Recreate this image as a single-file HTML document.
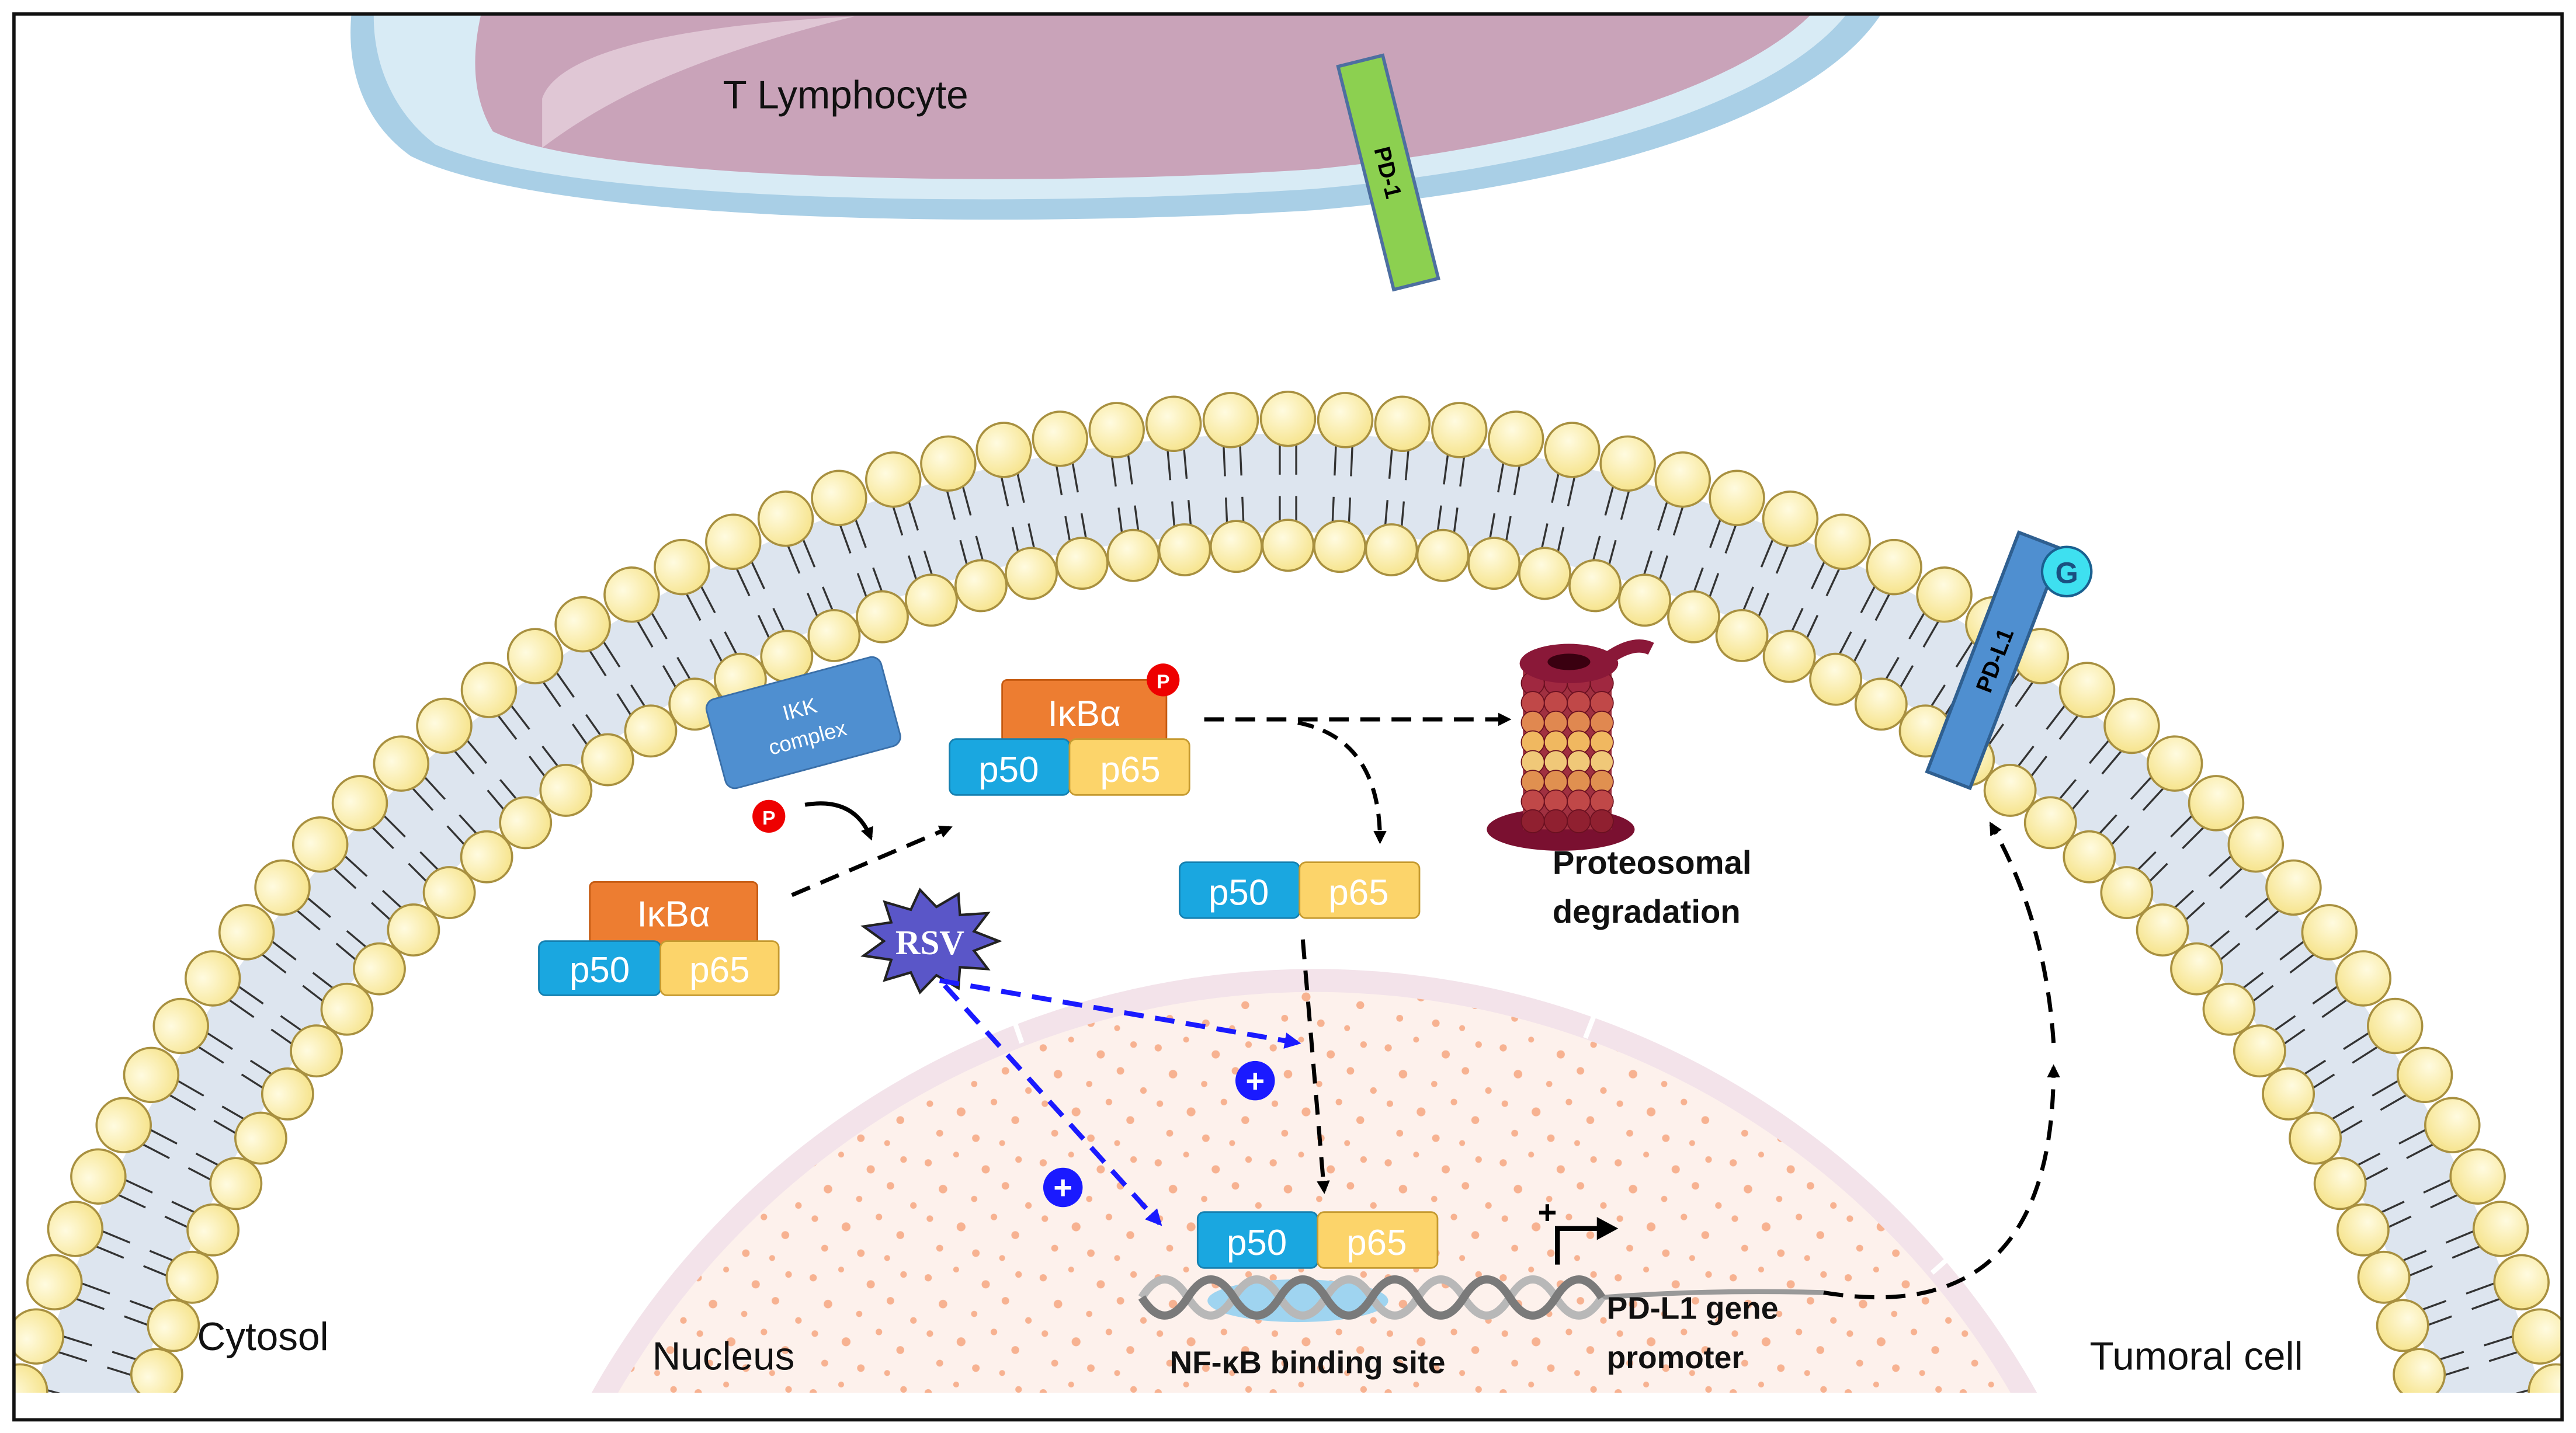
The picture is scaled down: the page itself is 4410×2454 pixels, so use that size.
<!DOCTYPE html>
<html><head><meta charset="utf-8"><style>
html,body{margin:0;padding:0;background:#fff;width:4410px;height:2454px;overflow:hidden}
svg{display:block}
text{font-family:"Liberation Sans",sans-serif}
</style></head><body>
<svg width="4410" height="2454" viewBox="0 0 1568 872.5" xmlns="http://www.w3.org/2000/svg">
<defs>
<clipPath id="cp"><rect x="9" y="9" width="1550" height="839"/></clipPath>
<clipPath id="cn"><circle cx="800" cy="1094" r="490"/></clipPath>
<marker id="ak" markerWidth="8" markerHeight="8" refX="6" refY="4" orient="auto" markerUnits="userSpaceOnUse"><path d="M0,0 L8,4 L0,8 Z" fill="#000"/></marker>
<marker id="ab" markerWidth="10" markerHeight="10" refX="8" refY="5" orient="auto" markerUnits="userSpaceOnUse"><path d="M0,0 L10,5 L0,10 Z" fill="#1a1aff"/></marker>
<radialGradient id="hg" cx="0.4" cy="0.35" r="0.7"><stop offset="0" stop-color="#fffbe0"/><stop offset="1" stop-color="#f6e38a"/></radialGradient>
<pattern id="dp" width="70" height="70" patternUnits="userSpaceOnUse">
<g fill="#f5a27a" opacity="0.8">
<circle cx="5" cy="8" r="2.2"/><circle cx="22" cy="3" r="1.8"/><circle cx="40" cy="12" r="2.5"/><circle cx="60" cy="6" r="2"/><circle cx="14" cy="24" r="2.6"/><circle cx="33" cy="30" r="1.9"/><circle cx="52" cy="22" r="2.3"/><circle cx="66" cy="34" r="2"/><circle cx="6" cy="42" r="2"/><circle cx="25" cy="47" r="2.7"/><circle cx="45" cy="41" r="2"/><circle cx="58" cy="52" r="2.4"/><circle cx="12" cy="60" r="2.1"/><circle cx="34" cy="63" r="2.3"/><circle cx="50" cy="66" r="1.8"/>
</g></pattern>
<g id="lp">
<g stroke="#333" stroke-width="1.2">
<line x1="779" y1="263" x2="779" y2="289"/><line x1="789" y1="263" x2="789" y2="289"/>
<line x1="779" y1="302" x2="779" y2="324"/><line x1="789" y1="302" x2="789" y2="324"/>
</g>
<circle cx="784" cy="255" r="16.5" fill="url(#hg)" stroke="#a89040" stroke-width="1.3"/>
<circle cx="784" cy="332" r="15.5" fill="url(#hg)" stroke="#a89040" stroke-width="1.3"/>
</g>
<g id="pc"><circle cx="0" cy="0" r="7"/><circle cx="14" cy="0" r="7"/><circle cx="28" cy="0" r="7"/><circle cx="42" cy="0" r="7"/></g>
</defs>
<rect x="0" y="0" width="1568" height="872.5" fill="#fff"/>
<g clip-path="url(#cp)">
<!-- T lymphocyte -->
<path d="M215,0 L1150,0 C1120,60 1000,110 800,128 C600,140 330,135 250,95 C215,70 210,30 215,0Z" fill="#a9cfe6"/>
<path d="M228,0 L1130,0 C1100,50 990,98 800,115 C600,128 340,122 265,88 C235,65 225,30 228,0Z" fill="#d8ebf5"/>
<path d="M295,0 L1110,0 C1080,40 980,85 800,103 C620,115 360,110 300,80 C285,55 288,25 295,0Z" fill="#c9a3b9"/>
<path d="M330,60 C340,30 420,15 520,10 C420,35 370,60 330,90Z" fill="#e6d0dc" opacity="0.8"/>
<text x="440" y="66" font-size="24" fill="#111">T Lymphocyte</text>
<g transform="translate(845,105) rotate(-14)"><rect x="-14" y="-70" width="28" height="140" fill="#8cd050" stroke="#4d6fa0" stroke-width="2"/><text x="0" y="0" font-size="14" font-weight="bold" transform="rotate(90)" text-anchor="middle" dy="5">PD-1</text></g>
<!-- membrane band -->
<circle cx="784" cy="1054" r="790" fill="#dde5ef"/>
<circle cx="784" cy="1054" r="730" fill="#fff"/>
<g>
<use href="#lp" transform="rotate(-90 784 1054)"/><use href="#lp" transform="rotate(-87.5 784 1054)"/><use href="#lp" transform="rotate(-85 784 1054)"/><use href="#lp" transform="rotate(-82.5 784 1054)"/><use href="#lp" transform="rotate(-80 784 1054)"/><use href="#lp" transform="rotate(-77.5 784 1054)"/><use href="#lp" transform="rotate(-75 784 1054)"/><use href="#lp" transform="rotate(-72.5 784 1054)"/><use href="#lp" transform="rotate(-70 784 1054)"/><use href="#lp" transform="rotate(-67.5 784 1054)"/><use href="#lp" transform="rotate(-65 784 1054)"/><use href="#lp" transform="rotate(-62.5 784 1054)"/><use href="#lp" transform="rotate(-60 784 1054)"/><use href="#lp" transform="rotate(-57.5 784 1054)"/><use href="#lp" transform="rotate(-55 784 1054)"/><use href="#lp" transform="rotate(-52.5 784 1054)"/><use href="#lp" transform="rotate(-50 784 1054)"/><use href="#lp" transform="rotate(-47.5 784 1054)"/><use href="#lp" transform="rotate(-45 784 1054)"/><use href="#lp" transform="rotate(-42.5 784 1054)"/><use href="#lp" transform="rotate(-40 784 1054)"/><use href="#lp" transform="rotate(-37.5 784 1054)"/><use href="#lp" transform="rotate(-35 784 1054)"/><use href="#lp" transform="rotate(-32.5 784 1054)"/><use href="#lp" transform="rotate(-30 784 1054)"/><use href="#lp" transform="rotate(-27.5 784 1054)"/><use href="#lp" transform="rotate(-25 784 1054)"/><use href="#lp" transform="rotate(-22.5 784 1054)"/><use href="#lp" transform="rotate(-20 784 1054)"/><use href="#lp" transform="rotate(-17.5 784 1054)"/><use href="#lp" transform="rotate(-15 784 1054)"/><use href="#lp" transform="rotate(-12.5 784 1054)"/><use href="#lp" transform="rotate(-10 784 1054)"/><use href="#lp" transform="rotate(-7.5 784 1054)"/><use href="#lp" transform="rotate(-5 784 1054)"/><use href="#lp" transform="rotate(-2.5 784 1054)"/><use href="#lp"/>
<use href="#lp" transform="rotate(90 784 1054)"/><use href="#lp" transform="rotate(87.5 784 1054)"/><use href="#lp" transform="rotate(85 784 1054)"/><use href="#lp" transform="rotate(82.5 784 1054)"/><use href="#lp" transform="rotate(80 784 1054)"/><use href="#lp" transform="rotate(77.5 784 1054)"/><use href="#lp" transform="rotate(75 784 1054)"/><use href="#lp" transform="rotate(72.5 784 1054)"/><use href="#lp" transform="rotate(70 784 1054)"/><use href="#lp" transform="rotate(67.5 784 1054)"/><use href="#lp" transform="rotate(65 784 1054)"/><use href="#lp" transform="rotate(62.5 784 1054)"/><use href="#lp" transform="rotate(60 784 1054)"/><use href="#lp" transform="rotate(57.5 784 1054)"/><use href="#lp" transform="rotate(55 784 1054)"/><use href="#lp" transform="rotate(52.5 784 1054)"/><use href="#lp" transform="rotate(50 784 1054)"/><use href="#lp" transform="rotate(47.5 784 1054)"/><use href="#lp" transform="rotate(45 784 1054)"/><use href="#lp" transform="rotate(42.5 784 1054)"/><use href="#lp" transform="rotate(40 784 1054)"/><use href="#lp" transform="rotate(37.5 784 1054)"/><use href="#lp" transform="rotate(35 784 1054)"/><use href="#lp" transform="rotate(32.5 784 1054)"/><use href="#lp" transform="rotate(30 784 1054)"/><use href="#lp" transform="rotate(27.5 784 1054)"/><use href="#lp" transform="rotate(25 784 1054)"/><use href="#lp" transform="rotate(22.5 784 1054)"/><use href="#lp" transform="rotate(20 784 1054)"/><use href="#lp" transform="rotate(17.5 784 1054)"/><use href="#lp" transform="rotate(15 784 1054)"/><use href="#lp" transform="rotate(12.5 784 1054)"/><use href="#lp" transform="rotate(10 784 1054)"/><use href="#lp" transform="rotate(7.5 784 1054)"/><use href="#lp" transform="rotate(5 784 1054)"/><use href="#lp" transform="rotate(2.5 784 1054)"/>
</g>
<!-- nucleus -->
<circle cx="800" cy="1094" r="504" fill="#f3e3ea"/>
<circle cx="800" cy="1094" r="490" fill="#fdf1ec"/>
<rect x="300" y="590" width="1000" height="260" fill="url(#dp)" clip-path="url(#cn)"/>
<g stroke="#fff" stroke-width="3">
<line x1="390" y1="800" x2="371" y2="784"/><line x1="450" y1="710" x2="434" y2="696"/><line x1="622" y1="635" x2="614" y2="612"/><line x1="965" y1="632" x2="974" y2="609"/><line x1="1176" y1="775" x2="1193" y2="760"/>
</g>
</g>
<rect x="8.5" y="8.5" width="1551" height="856" fill="none" stroke="#111" stroke-width="2"/>
<!-- labels -->
<text x="120" y="822" font-size="24" fill="#111">Cytosol</text>
<text x="397" y="834" font-size="24" fill="#111">Nucleus</text>
<text x="1272" y="834" font-size="24" fill="#111">Tumoral cell</text>
<!-- IKK -->
<g transform="translate(489,440) rotate(-15)"><rect x="-55" y="-28" width="110" height="56" rx="6" fill="#4f8fd0" stroke="#3a6fa8"/><text x="0" y="-4" font-size="13" fill="#fff" text-anchor="middle">IKK</text><text x="0" y="14" font-size="13" fill="#fff" text-anchor="middle">complex</text></g>
<circle cx="468" cy="497" r="10" fill="#e00"/><text x="468" y="502" font-size="12" font-weight="bold" fill="#fff" text-anchor="middle">P</text>
<path d="M490,490 Q520,485 530,510" fill="none" stroke="#000" stroke-width="2.5" marker-end="url(#ak)"/>
<!-- complex 1 -->
<rect x="359" y="537" width="102" height="38" rx="3" fill="#ed7d31" stroke="#c55a11"/><text x="410" y="564" font-size="22" fill="#fff" text-anchor="middle">IκBα</text>
<rect x="328" y="573" width="74" height="33" rx="4" fill="#1aa7e0" stroke="#1580b0"/><text x="365" y="598" font-size="22" fill="#fff" text-anchor="middle">p50</text>
<rect x="402" y="573" width="72" height="33" rx="4" fill="#fcd46a" stroke="#c59a30"/><text x="438" y="598" font-size="22" fill="#fff" text-anchor="middle">p65</text>
<path d="M482,545 L578,504" stroke="#000" stroke-width="2.5" stroke-dasharray="12,7" fill="none" marker-end="url(#ak)"/>
<!-- complex 2 -->
<rect x="610" y="414" width="100" height="38" rx="3" fill="#ed7d31" stroke="#c55a11"/><text x="660" y="442" font-size="22" fill="#fff" text-anchor="middle">IκBα</text>
<circle cx="708" cy="414" r="10" fill="#e00"/><text x="708" y="419" font-size="12" font-weight="bold" fill="#fff" text-anchor="middle">P</text>
<rect x="578" y="450" width="73" height="34" rx="4" fill="#1aa7e0" stroke="#1580b0"/><text x="614" y="476" font-size="22" fill="#fff" text-anchor="middle">p50</text>
<rect x="651" y="450" width="73" height="34" rx="4" fill="#fcd46a" stroke="#c59a30"/><text x="688" y="476" font-size="22" fill="#fff" text-anchor="middle">p65</text>
<path d="M733,438 L918,438" stroke="#000" stroke-width="2.5" stroke-dasharray="12,7" fill="none" marker-end="url(#ak)"/>
<path d="M790,440 Q840,450 840,512" stroke="#000" stroke-width="2.5" stroke-dasharray="10,6" fill="none" marker-end="url(#ak)"/>
<!-- proteasome -->
<ellipse cx="950" cy="505" rx="45" ry="13" fill="#7a1030"/>
<rect x="927" y="405" width="54" height="100" fill="#a03040"/>
<g stroke="#6a1020" stroke-width="0.6">
<use href="#pc" x="933" y="416" fill="#a02840"/><use href="#pc" x="933" y="428" fill="#c04848"/><use href="#pc" x="933" y="440" fill="#e08850"/><use href="#pc" x="933" y="452" fill="#f0b860"/><use href="#pc" x="933" y="464" fill="#f0c878"/><use href="#pc" x="933" y="476" fill="#e09050"/><use href="#pc" x="933" y="488" fill="#c04848"/><use href="#pc" x="933" y="500" fill="#902030"/>
</g>
<ellipse cx="955" cy="404" rx="30" ry="12" fill="#8a1838"/><ellipse cx="955" cy="403" rx="13" ry="5" fill="#3a0010"/>
<path d="M980,400 Q995,390 1005,395" stroke="#8a1838" stroke-width="8" fill="none"/>
<text x="945" y="532" font-size="20" font-weight="bold" fill="#111">Proteosomal</text>
<text x="945" y="562" font-size="20" font-weight="bold" fill="#111">degradation</text>
<!-- free p50/p65 -->
<rect x="718" y="525" width="73" height="34" rx="4" fill="#1aa7e0" stroke="#1580b0"/><text x="754" y="551" font-size="22" fill="#fff" text-anchor="middle">p50</text>
<rect x="791" y="525" width="73" height="34" rx="4" fill="#fcd46a" stroke="#c59a30"/><text x="827" y="551" font-size="22" fill="#fff" text-anchor="middle">p65</text>
<path d="M793,572 L806,725" stroke="#000" stroke-width="2.5" stroke-dasharray="12,7" fill="none" marker-end="url(#ak)"/>
<!-- RSV -->
<polygon fill="#5a56c8" stroke="#222" stroke-width="1.5" points="608,573 592.9,578.9 601.3,590 584.3,588.9 583.4,601.7 570,593.8 560,604.2 554.4,592.1 538.5,596.8 542.5,584.4 525.7,581.9 538,573 525.7,564.1 542.5,561.6 538.5,549.2 554.4,553.9 560,541.8 570,552.2 583.4,544.3 584.3,557.1 601.3,556 592.9,567.1"/>
<text x="566" y="581" font-size="21" font-weight="bold" fill="#fff" text-anchor="middle" style="font-family:'Liberation Serif',serif">RSV</text>
<path d="M572,597 L790,635" stroke="#1a1aff" stroke-width="3" stroke-dasharray="12,7" fill="none" marker-end="url(#ab)"/>
<path d="M575,600 L706,745" stroke="#1a1aff" stroke-width="3" stroke-dasharray="12,7" fill="none" marker-end="url(#ab)"/>
<circle cx="764" cy="658" r="12" fill="#1a1aff"/><text x="764" y="665" font-size="20" font-weight="bold" fill="#fff" text-anchor="middle">+</text>
<circle cx="647" cy="723" r="12" fill="#1a1aff"/><text x="647" y="730" font-size="20" font-weight="bold" fill="#fff" text-anchor="middle">+</text>
<!-- DNA -->
<ellipse cx="790" cy="792" rx="55" ry="13" fill="#9fd4f0"/>
<path d="M975,790 Q1040,785 1110,787" stroke="#999" stroke-width="3" fill="none"/>
<path d="M695,790 q14,-22 28,0 t28,0 t28,0 t28,0 t28,0 t28,0 t28,0 t28,0 t28,0 t28,0" stroke="#b8b8b8" stroke-width="5" fill="none"/>
<path d="M695,790 q14,22 28,0 t28,0 t28,0 t28,0 t28,0 t28,0 t28,0 t28,0 t28,0 t28,0" stroke="#7a7a7a" stroke-width="5" fill="none"/>
<rect x="729" y="738" width="73" height="34" rx="4" fill="#1aa7e0" stroke="#1580b0"/><text x="765" y="764" font-size="22" fill="#fff" text-anchor="middle">p50</text>
<rect x="802" y="738" width="73" height="34" rx="4" fill="#fcd46a" stroke="#c59a30"/><text x="838" y="764" font-size="22" fill="#fff" text-anchor="middle">p65</text>
<text x="712" y="836" font-size="19" font-weight="bold" fill="#111">NF-κB binding site</text>
<text x="978" y="803" font-size="19" font-weight="bold" fill="#111">PD-L1 gene</text>
<text x="978" y="833" font-size="19" font-weight="bold" fill="#111">promoter</text>
<text x="936" y="745" font-size="20" font-weight="bold" fill="#000">+</text>
<path d="M948,770 L948,748 L975,748" stroke="#000" stroke-width="3" fill="none"/><path d="M972,741 L985,748 L972,755Z" fill="#000"/>
<path d="M1110,787 Q1250,810 1250,650" stroke="#000" stroke-width="2.5" stroke-dasharray="12,7" fill="none" marker-end="url(#ak)"/>
<path d="M1250,635 Q1245,560 1212,502" stroke="#000" stroke-width="2.5" stroke-dasharray="12,7" fill="none" marker-end="url(#ak)"/>
<!-- PD-L1 -->
<g transform="translate(1214,402) rotate(21)"><rect x="-14" y="-78" width="28" height="156" fill="#4f8fd0" stroke="#2f5f90" stroke-width="2"/><text x="0" y="0" font-size="14" font-weight="bold" transform="rotate(-90)" text-anchor="middle" dy="5">PD-L1</text></g>
<circle cx="1258" cy="348" r="15" fill="#3ee0f0" stroke="#1a6090" stroke-width="1.5"/><text x="1258" y="355" font-size="18" font-weight="bold" fill="#1a5080" text-anchor="middle">G</text>
</svg>
</body></html>
